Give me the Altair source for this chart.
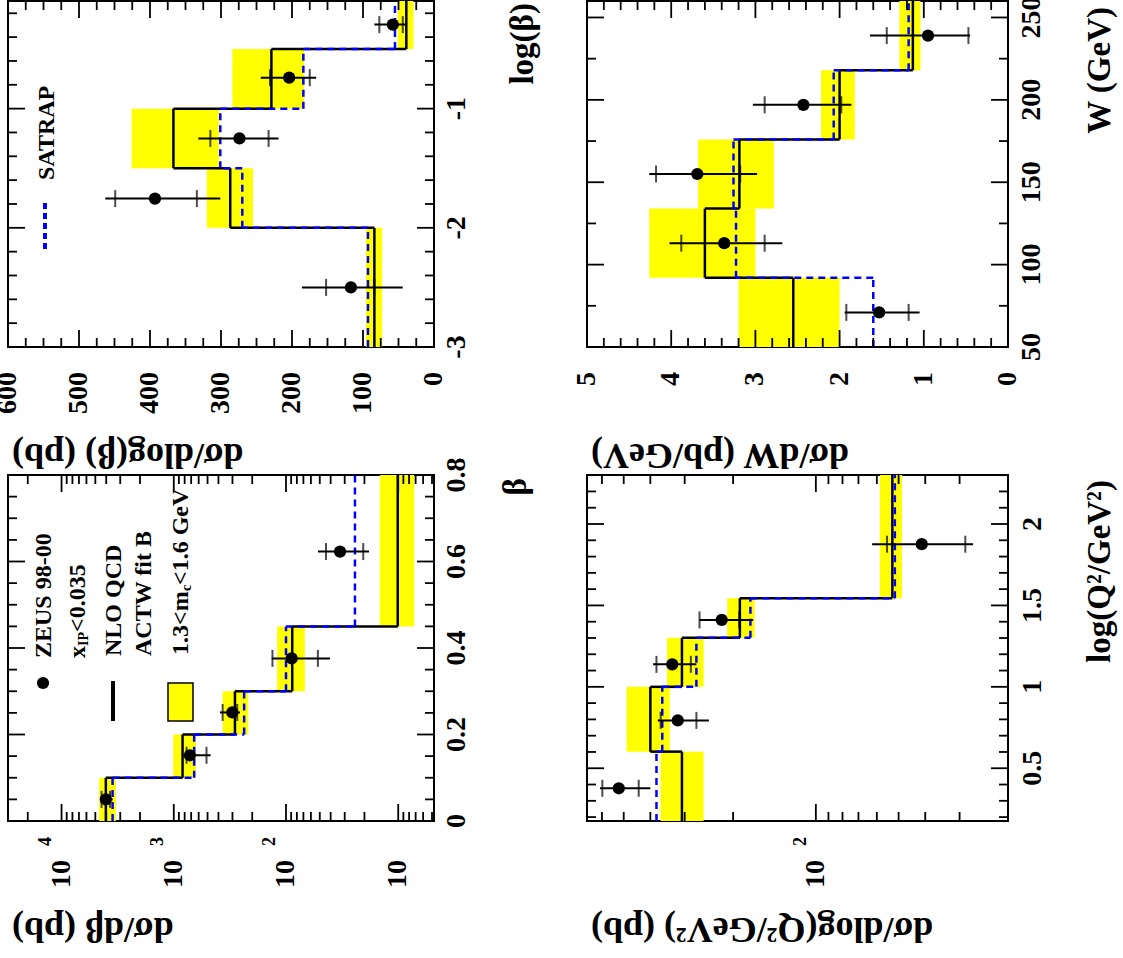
import altair as alt
import pandas as pd

FONT = "Liberation Serif"
YELLOW = "#ffff00"
BLUE = "#0000ff"

# ---------------- dsigma/dlog(beta) ----------------
LB_EDGES = [-3.0, -2.0, -1.5, -1.0, -0.5, -0.097]
LB_NLO = [84, 287, 367, 229, 39]
LB_NLO_LO = [73, 255, 303, 183, 29]
LB_NLO_HI = [96, 320, 426, 284, 51]
LB_SATRAP = [93, 270, 301, 184, 55]
LB_X = [-2.50, -1.755, -1.25, -0.74, -0.295]
LB_Y = [117, 393, 274, 204, 58]
LB_STAT_LO = [84, 334, 233, 175, 44]
LB_STAT_HI = [152, 449, 315, 231, 77]
LB_TOT_LO = [44, 301, 219, 166, 39]
LB_TOT_HI = [186, 463, 332, 244, 84]

# ---------------- dsigma/dW ----------------
W_EDGES = [50, 92, 134, 176, 218, 260]
W_NLO = [2.55, 3.60, 3.19, 2.00, 1.13]
W_NLO_LO = [2.00, 3.00, 2.78, 1.82, 1.04]
W_NLO_HI = [3.20, 4.26, 3.68, 2.22, 1.29]
W_SATRAP = [1.60, 3.23, 3.26, 2.07, 1.18]
W_X = [71, 113, 155, 197, 239]
W_Y = [1.53, 3.37, 3.69, 2.43, 0.95]
W_STAT_LO = [1.18, 2.89, 3.18, 1.98, 0.47]
W_STAT_HI = [1.92, 3.88, 4.18, 2.89, 1.44]
W_TOT_LO = [1.05, 2.68, 2.98, 1.86, 0.45]
W_TOT_HI = [1.94, 4.02, 4.26, 3.03, 1.64]

# ---------------- dsigma/dbeta ----------------
B_EDGES = [0.0, 0.1, 0.2, 0.3, 0.45, 0.8]
B_NLO = [4030, 835, 285, 88, 10.1]
B_NLO_LO = [3280, 635, 217, 68, 7.2]
B_NLO_HI = [4620, 1010, 367, 120, 14.6]
B_SATRAP = [3510, 658, 236, 100, 24.3]
B_X = [0.05, 0.152, 0.251, 0.376, 0.623]
B_Y = [4030, 719, 301, 89, 33]
B_STAT_LO = [3700, 511, 272, 52, 20.5]
B_STAT_HI = [4400, 769, 367, 132, 44]
B_TOT_LO = [3500, 470, 257, 40.6, 18.2]
B_TOT_HI = [4550, 824, 388, 134, 51.9]

# ---------------- dsigma/dlog(Q2) ----------------
Q_EDGES = [0.176, 0.602, 1.0, 1.301, 1.544, 2.301]
Q_NLO = [307, 400, 307, 189, 52.7]
Q_NLO_LO = [256, 340, 256, 167, 48.6]
Q_NLO_HI = [367, 488, 348, 210, 58.5]
Q_SATRAP = [380, 362, 272, 173, 51.6]
Q_X = [0.377, 0.794, 1.138, 1.411, 1.876]
Q_Y = [521, 318, 333, 220, 41.2]
Q_STAT_LO = [441, 272, 285, 190, 28.6]
Q_STAT_HI = [598, 367, 380, 265, 55.1]
Q_TOT_LO = [400, 245, 272, 169, 26.8]
Q_TOT_HI = [610, 376, 391, 265, 62.4]

# ---------------- axis ticks and tick labels ----------------
LB_VAL_MAJ = [0, 100, 200, 300, 400, 500, 600]
LB_VAL_LABELS = ["0", "100", "200", "300", "400", "500", "600"]
LB_VAL_MIN = [v + d for v in range(0, 600, 100) for d in (25, 50, 75)]
LB_KIN_MAJ = [-3, -2, -1]
LB_KIN_LABELS = ["-3", "-2", "-1"]
LB_KIN_MIN = [round(-3 + 0.2 * i, 2) for i in range(1, 15) if i % 5 != 0]

W_VAL_MAJ = [0, 1, 2, 3, 4, 5]
W_VAL_LABELS = ["0", "1", "2", "3", "4", "5"]
W_VAL_MIN = [round(0.2 * i, 2) for i in range(1, 25) if i % 5 != 0]
W_KIN_MAJ = [50, 100, 150, 200, 250]
W_KIN_LABELS = ["50", "100", "150", "200", "250"]
W_KIN_MIN = [75, 125, 175, 225]

B_VAL_MAJ = [10, 100, 1000, 10000]
B_VAL_LABELS = ["10", "10", "10", "10"]
B_VAL_EXP = ["", "2", "3", "4"]
B_VAL_MIN = [5, 6, 7, 8, 9] + [m * d for d in (10, 100, 1000) for m in range(2, 10)] + [20000]
B_KIN_MAJ = [0, 0.2, 0.4, 0.6, 0.8]
B_KIN_LABELS = ["0", "0.2", "0.4", "0.6", "0.8"]
B_KIN_MIN = [round(0.05 * i, 2) for i in range(1, 16) if i % 4 != 0]

Q_VAL_MAJ = [100]
Q_VAL_LABELS = ["10"]
Q_VAL_EXP = ["2"]
Q_VAL_MIN = [30, 40, 50, 60, 70, 80, 90, 200, 300, 400, 500, 600]
Q_KIN_MAJ = [0.5, 1.0, 1.5, 2.0]
Q_KIN_LABELS = ["0.5", "1", "1.5", "2"]
Q_KIN_MIN = [round(0.1 * i, 1) for i in range(2, 24) if i % 5 != 0]

PW1, PW2, PH = 426, 421, 346
DUMMY = pd.DataFrame({"d": [0]})


def X(f):
    return alt.X(f, type="quantitative", axis=None)


def Y(f):
    return alt.Y(f, type="quantitative", axis=None)


def tick_layers(vmaj, vmin, kmaj, kmin, W, H):
    out = []
    for vals, ln in ((vmaj, 17), (vmin, 9)):
        base = alt.Chart(pd.DataFrame({"t": vals})).mark_rule(color="black", strokeWidth=1.8)
        out.append(base.encode(x=X("t"), y=alt.value(H), y2=alt.value(H - ln)))
        out.append(base.encode(x=X("t"), y=alt.value(0), y2=alt.value(ln)))
    for vals, ln in ((kmaj, 17), (kmin, 9)):
        base = alt.Chart(pd.DataFrame({"t": vals})).mark_rule(color="black", strokeWidth=1.8)
        out.append(base.encode(y=Y("t"), x=alt.value(0), x2=alt.value(ln)))
        out.append(base.encode(y=Y("t"), x=alt.value(W), x2=alt.value(W - ln)))
    return out


def label_layers(vvals, vlabels, vpad, kvals, klabels, kpad, vtitle, ktitle, ktx, kty, W, H,
                 vexp=None, exp_shift=-16):
    out = [
        alt.Chart(pd.DataFrame({"v": vvals, "t": vlabels})).mark_text(
            angle=270, align="right", baseline="middle", font=FONT, fontSize=28,
            fontWeight="bold", color="black").encode(x=X("v"), y=alt.value(H + vpad), text="t:N"),
        alt.Chart(pd.DataFrame({"v": kvals, "t": klabels})).mark_text(
            angle=270, align="center", baseline="top", font=FONT, fontSize=28,
            fontWeight="bold", color="black").encode(y=Y("v"), x=alt.value(W + kpad), text="t:N"),
        alt.Chart(pd.DataFrame({"t": [vtitle]})).mark_text(
            angle=180, align="right", baseline="alphabetic", font=FONT, fontSize=36,
            fontWeight="bold", color="black").encode(x=alt.value(4), y=alt.value(H + 97), text="t:N"),
        alt.Chart(pd.DataFrame({"t": [ktitle]})).mark_text(
            angle=270, align="right", baseline="alphabetic", font=FONT, fontSize=33,
            fontWeight="bold", color="black").encode(x=alt.value(W + ktx), y=alt.value(kty), text="t:N"),
    ]
    if vexp is not None:
        out.append(alt.Chart(pd.DataFrame({"v": vvals, "e": vexp})).mark_text(
            angle=270, align="right", baseline="middle", dy=exp_shift, font=FONT, fontSize=18,
            fontWeight="bold", color="black").encode(x=X("v"), y=alt.value(H + 16), text="e:N"))
    return out


def panel(edges, nlo, nlo_lo, nlo_hi, sat, kx, vy, slo, shi, tlo, thi,
          xscale, yscale, W, H, ticks, extra):
    bins = pd.DataFrame({"e0": edges[:-1], "e1": edges[1:], "nlo": nlo,
                         "lo": nlo_lo, "hi": nlo_hi, "sat": sat})
    steps = pd.DataFrame({"e": edges[1:-1], "a": nlo[:-1], "b": nlo[1:],
                          "sa": sat[:-1], "sb": sat[1:]})
    pts = pd.DataFrame({"k": kx, "v": vy, "tlo": tlo, "thi": thi})
    stat = pd.DataFrame({"k": list(kx) + list(kx), "s": list(slo) + list(shi)})
    layers = [
        alt.Chart(bins).mark_rect(color=YELLOW).encode(
            x=alt.X("lo:Q", scale=xscale, axis=None), x2=alt.X2("hi"),
            y=alt.Y("e0:Q", scale=yscale, axis=None), y2=alt.Y2("e1")),
        alt.Chart(bins).mark_rule(color="black", strokeWidth=2.5).encode(
            x=X("nlo"), y=Y("e0"), y2=alt.Y2("e1")),
        alt.Chart(steps).mark_rule(color="black", strokeWidth=2.5).encode(
            x=X("a"), x2=alt.X2("b"), y=Y("e")),
        alt.Chart(bins).mark_rule(color=BLUE, strokeWidth=2.5, strokeDash=[7, 5]).encode(
            x=X("sat"), y=Y("e0"), y2=alt.Y2("e1")),
        alt.Chart(steps).mark_rule(color=BLUE, strokeWidth=2.5, strokeDash=[7, 5]).encode(
            x=X("sa"), x2=alt.X2("sb"), y=Y("e")),
    ]
    layers += tick_layers(*ticks, W, H)
    layers += [
        alt.Chart(pts).mark_rule(color="black", strokeWidth=2).encode(
            x=X("tlo"), x2=alt.X2("thi"), y=Y("k")),
        alt.Chart(stat).mark_tick(color="black", orient="vertical", size=17, thickness=2).encode(
            x=X("s"), y=Y("k")),
        alt.Chart(pts).mark_circle(color="black", size=150, opacity=1).encode(
            x=X("v"), y=Y("k")),
    ]
    layers += extra
    return alt.layer(*layers).properties(width=W, height=H)


def txt(s, x, y, size=24):
    return alt.Chart(pd.DataFrame({"s": [s]})).mark_text(
        angle=270, align="left", baseline="middle", font=FONT, fontSize=size,
        fontWeight="bold", color="black").encode(text="s:N", x=alt.value(x), y=alt.value(y))


# ---- panel A: dsigma/dlog(beta)
extraA = [
    alt.Chart(DUMMY).mark_rule(color=BLUE, strokeWidth=4, strokeDash=[6, 4]).encode(
        x=alt.value(37), y=alt.value(202), y2=alt.value(249)),
    txt("SATRAP", 39, 179),
] + label_layers(LB_VAL_MAJ, LB_VAL_LABELS, 25, LB_KIN_MAJ, LB_KIN_LABELS, 9,
                 "dσ/dlog(β) (pb)", "log(β)", 99, 2, PW1, PH)
chartA = panel(LB_EDGES, LB_NLO, LB_NLO_LO, LB_NLO_HI, LB_SATRAP, LB_X, LB_Y,
               LB_STAT_LO, LB_STAT_HI, LB_TOT_LO, LB_TOT_HI,
               alt.Scale(domain=[0, 600], reverse=True, nice=False, zero=False),
               alt.Scale(domain=[-3, -0.097], nice=False, zero=False),
               PW1, PH, (LB_VAL_MAJ, LB_VAL_MIN, LB_KIN_MAJ, LB_KIN_MIN), extraA)

# ---- panel B: dsigma/dW
extraB = label_layers(W_VAL_MAJ, W_VAL_LABELS, 25, W_KIN_MAJ, W_KIN_LABELS, 10,
                      "dσ/dW (pb/GeV)", "W (GeV)", 102, 6, PW2, PH)
chartB = panel(W_EDGES, W_NLO, W_NLO_LO, W_NLO_HI, W_SATRAP, W_X, W_Y,
               W_STAT_LO, W_STAT_HI, W_TOT_LO, W_TOT_HI,
               alt.Scale(domain=[0, 5], reverse=True, nice=False, zero=False),
               alt.Scale(domain=[50, 260], nice=False, zero=False),
               PW2, PH, (W_VAL_MAJ, W_VAL_MIN, W_KIN_MAJ, W_KIN_MIN), extraB)

# ---- panel C: dsigma/dbeta
extraC = [
    alt.Chart(DUMMY).mark_circle(color="black", size=150, opacity=1).encode(
        x=alt.value(35), y=alt.value(208)),
    txt("ZEUS 98-00", 36, 183),
    txt("x", 70, 183), txt("IP", 76, 171, 14), txt("<0.035", 70, 157),
    alt.Chart(DUMMY).mark_rule(color="black", strokeWidth=4).encode(
        x=alt.value(105), y=alt.value(206), y2=alt.value(246)),
    txt("NLO QCD", 106, 181),
    txt("ACTW fit B", 136, 181),
    alt.Chart(DUMMY).mark_rect(color=YELLOW, stroke="black", strokeWidth=1.5).encode(
        x=alt.value(160), x2=alt.value(185), y=alt.value(208), y2=alt.value(246)),
    txt("1.3<m", 173, 180), txt("c", 179, 116, 14), txt("<1.6 GeV", 173, 110),
] + label_layers(B_VAL_MAJ, B_VAL_LABELS, 39, B_KIN_MAJ, B_KIN_LABELS, 9,
                 "dσ/dβ (pb)", "β", 92, 3, PW1, PH, B_VAL_EXP, -16)
chartC = panel(B_EDGES, B_NLO, B_NLO_LO, B_NLO_HI, B_SATRAP, B_X, B_Y,
               B_STAT_LO, B_STAT_HI, B_TOT_LO, B_TOT_HI,
               alt.Scale(type="log", domain=[4.8, 30000], reverse=True, nice=False),
               alt.Scale(domain=[0, 0.8], nice=False, zero=False),
               PW1, PH, (B_VAL_MAJ, B_VAL_MIN, B_KIN_MAJ, B_KIN_MIN), extraC)

# ---- panel D: dsigma/dlog(Q2)
extraD = label_layers(Q_VAL_MAJ, Q_VAL_LABELS, 39, Q_KIN_MAJ, Q_KIN_LABELS, 11,
                      "dσ/dlog(Q²/GeV²) (pb)", "log(Q²/GeV²)", 102, 5, PW2, PH, Q_VAL_EXP, -15)
chartD = panel(Q_EDGES, Q_NLO, Q_NLO_LO, Q_NLO_HI, Q_SATRAP, Q_X, Q_Y,
               Q_STAT_LO, Q_STAT_HI, Q_TOT_LO, Q_TOT_HI,
               alt.Scale(type="log", domain=[20, 680], reverse=True, nice=False),
               alt.Scale(domain=[0.176, 2.301], nice=False, zero=False),
               PW2, PH, (Q_VAL_MAJ, Q_VAL_MIN, Q_KIN_MAJ, Q_KIN_MIN), extraD)

chart = alt.concat(chartA, chartB, chartC, chartD, columns=2, bounds="flush",
                   spacing={"row": 128, "column": 153}).properties(
    padding={"left": -7, "top": -5, "right": 0, "bottom": 4}, background="white"
).configure_view(stroke="black", strokeWidth=2)

chart.save("out.html", embed_options={"renderer": "svg", "actions": False})
